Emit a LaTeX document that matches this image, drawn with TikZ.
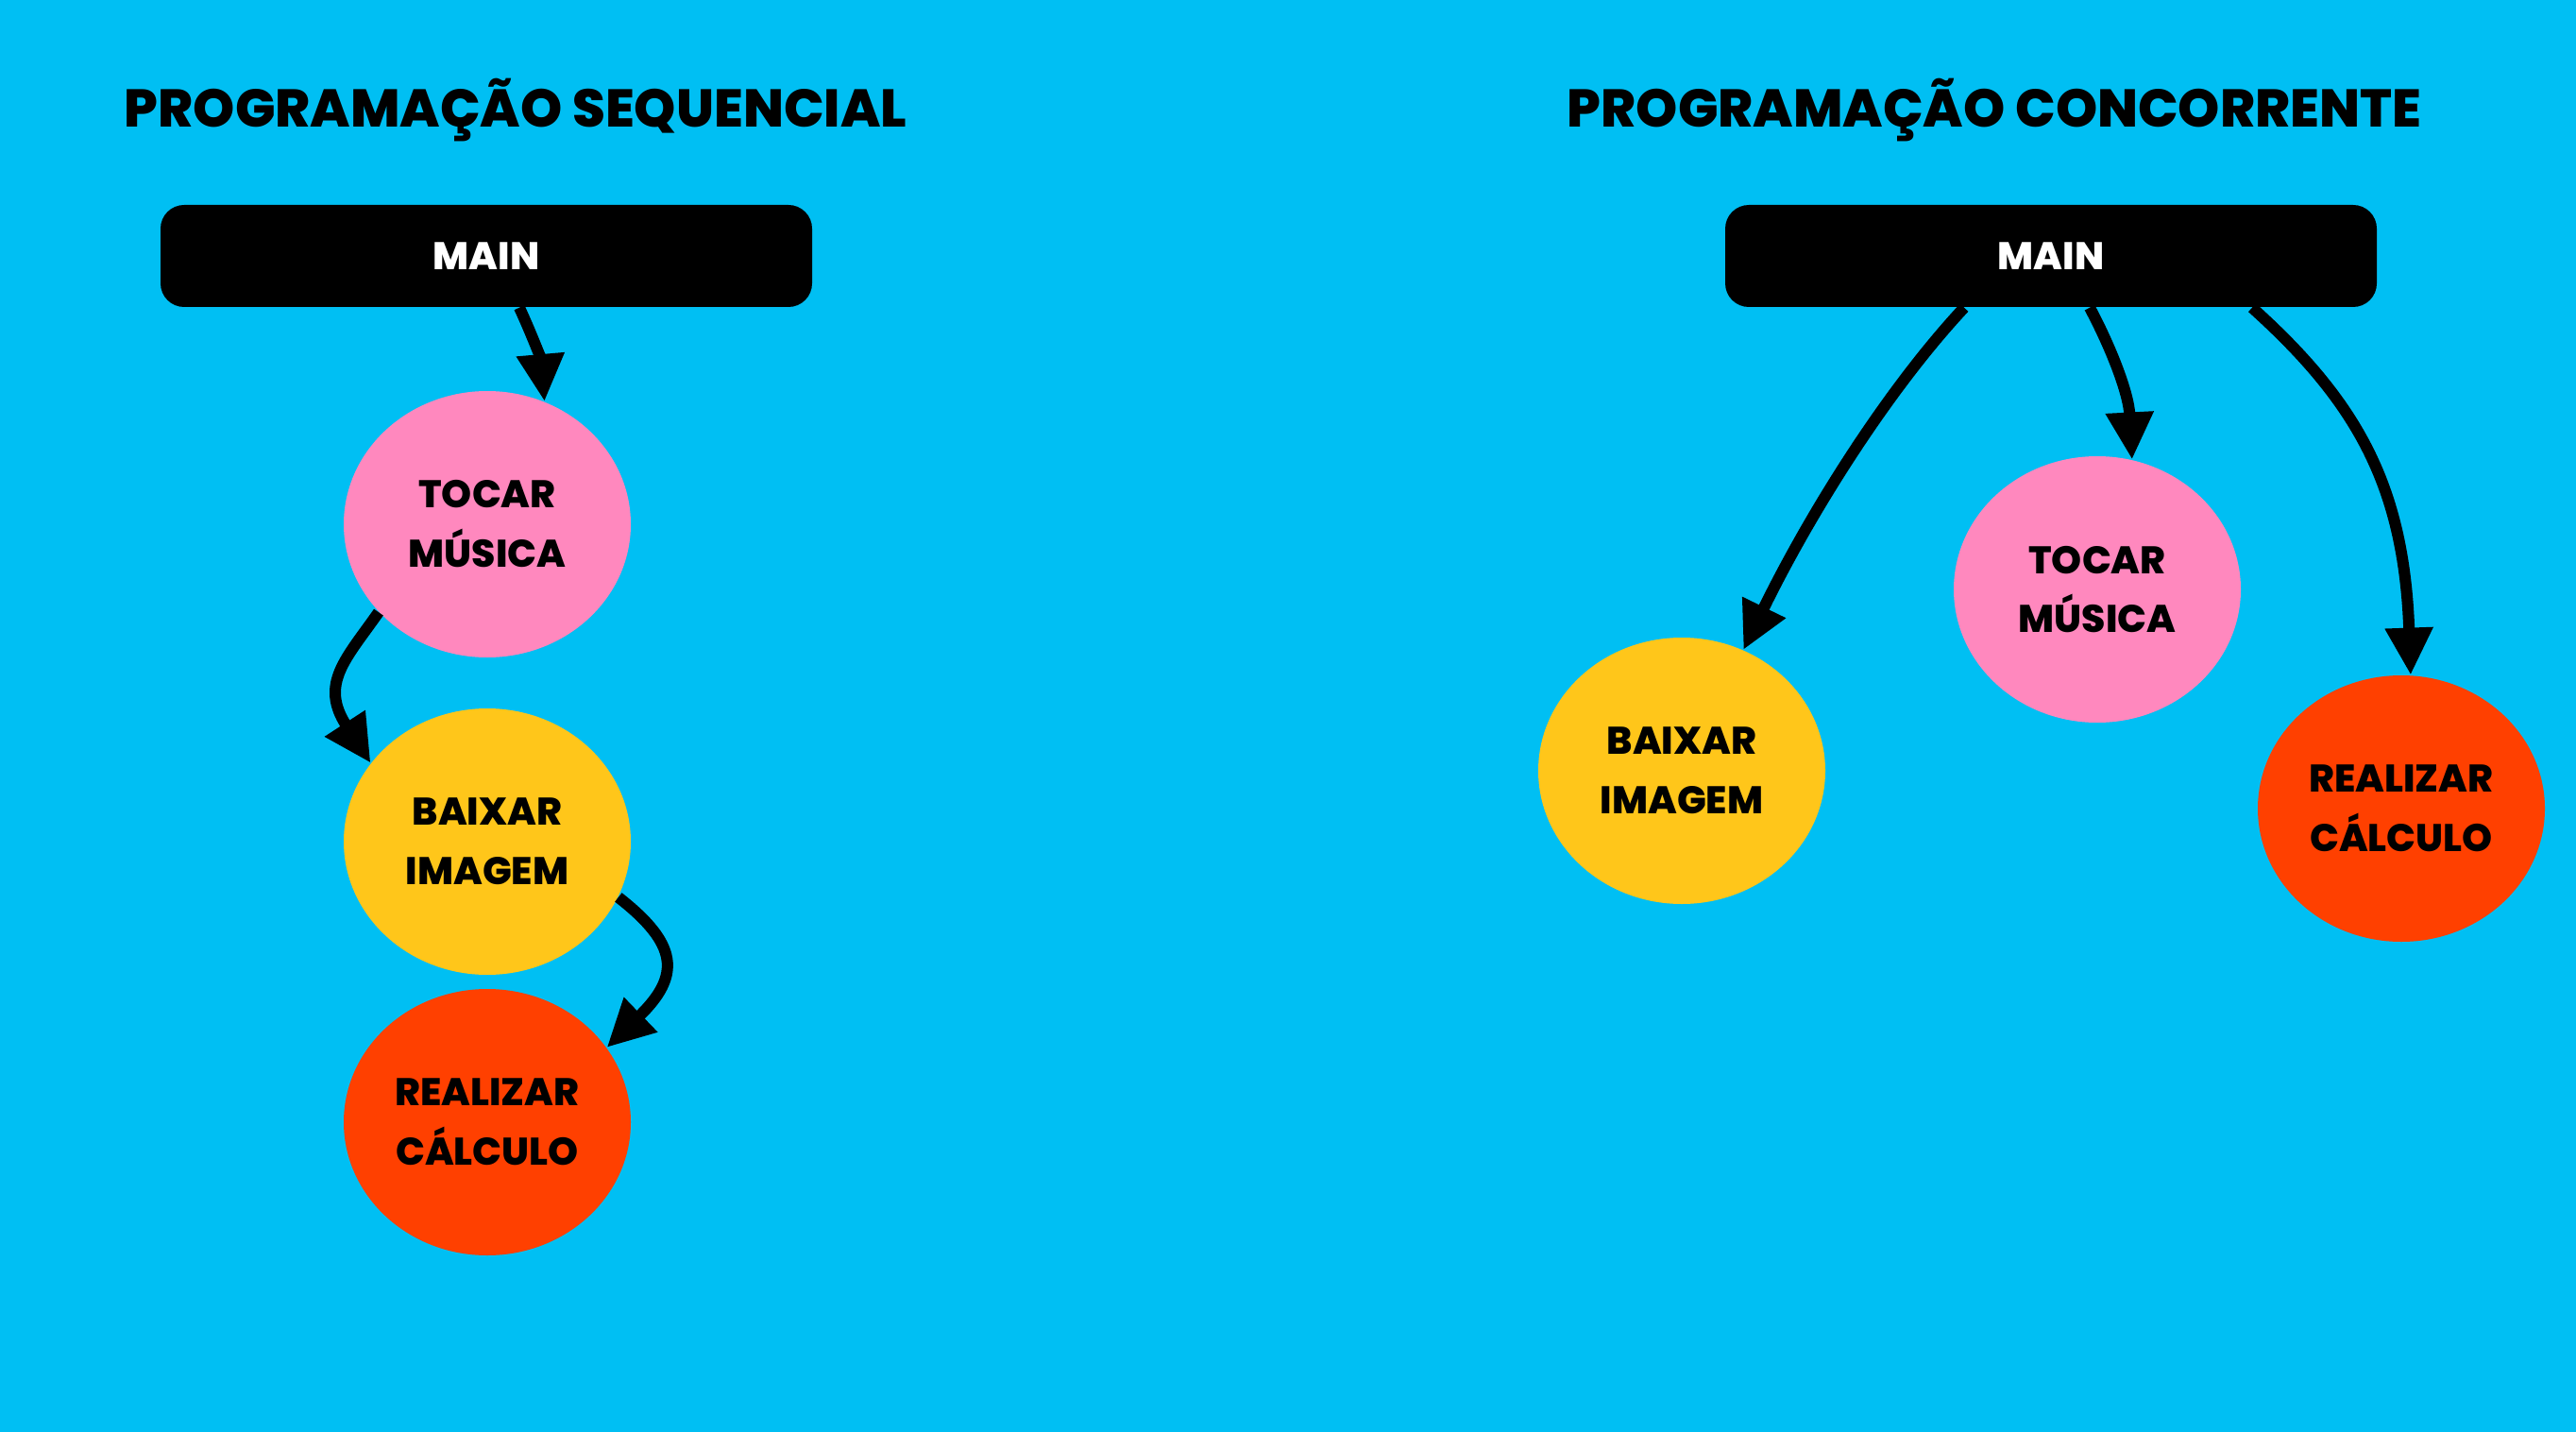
\documentclass[tikz,border=0pt]{standalone}
\usepackage{fontspec}
\setmainfont{Poppins}[BoldFont={Poppins ExtraBold}]
\usetikzlibrary{arrows.meta,shapes.geometric}
\definecolor{bgc}{RGB}{0,191,243}
\definecolor{pinkc}{RGB}{255,136,190}
\definecolor{yellc}{RGB}{255,198,26}
\definecolor{redc}{RGB}{255,64,0}
\begin{document}
\begin{tikzpicture}[
 titlet/.style={font=\fontsize{16}{19}\selectfont\bfseries, inner sep=0},
 mainbox/.style={fill=black, rounded corners=0.25cm, minimum width=6.9cm, minimum height=1.08cm, text=white, font=\fontsize{11.6}{13}\selectfont\bfseries, inner sep=0},
 task/.style={ellipse, minimum width=3.04cm, minimum height=2.82cm, inner sep=0, align=center, font=\fontsize{11.6}{17.9}\selectfont\bfseries},
 conn/.style={line width=0.12cm, -{Triangle[length=0.5cm,width=0.48cm]}}
]
\fill[bgc] (0,0) rectangle (27.28,-15.16);
\useasboundingbox (0,0) rectangle (27.28,-15.16);

% left
\node[titlet] (tl) at (5.46,-1.17) {PROGRAMAÇÃO SEQUENCIAL};
\node[mainbox] (mainL) at (5.15,-2.71) {MAIN};
\node[task, fill=pinkc] (tocL) at (5.16,-5.55) {TOCAR\\MÚSICA};
\node[task, fill=yellc] (baiL) at (5.16,-8.91) {BAIXAR\\IMAGEM};
\node[task, fill=redc] (reaL) at (5.16,-11.88) {REALIZAR\\CÁLCULO};

\draw[conn] ([xshift=0.35cm]mainL.south) .. controls +(-65:0.3) and +(95:0.45) .. (tocL.65);
\draw[conn] (tocL.219) .. controls +(235:0.6) and +(123:1.0) .. (baiL.146);
\draw[conn] (baiL.-23) .. controls +(-38:0.8) and +(44:1.1) .. (reaL.32);

% right
\node[titlet] (tr) at (21.12,-1.17) {PROGRAMAÇÃO CONCORRENTE};
\node[mainbox] (mainR) at (21.72,-2.71) {MAIN};
\node[task, fill=pinkc] (tocR) at (22.21,-6.24) {TOCAR\\MÚSICA};
\node[task, fill=yellc] (baiR) at (17.81,-8.16) {BAIXAR\\IMAGEM};
\node[task, fill=redc] (reaR) at (25.43,-8.56) {REALIZAR\\CÁLCULO};

\draw[conn] ([xshift=-0.92cm]mainR.south) .. controls +(-133:1.2) and +(64:1.6) .. (baiR.63);
\draw[conn] ([xshift=0.41cm]mainR.south) .. controls +(-62:0.5) and +(93:0.7) .. (tocR.75);
\draw[conn] ([xshift=2.13cm]mainR.south) .. controls +(-42:1.5) and +(92:2.0) .. (reaR.86);
\end{tikzpicture}
\end{document}
